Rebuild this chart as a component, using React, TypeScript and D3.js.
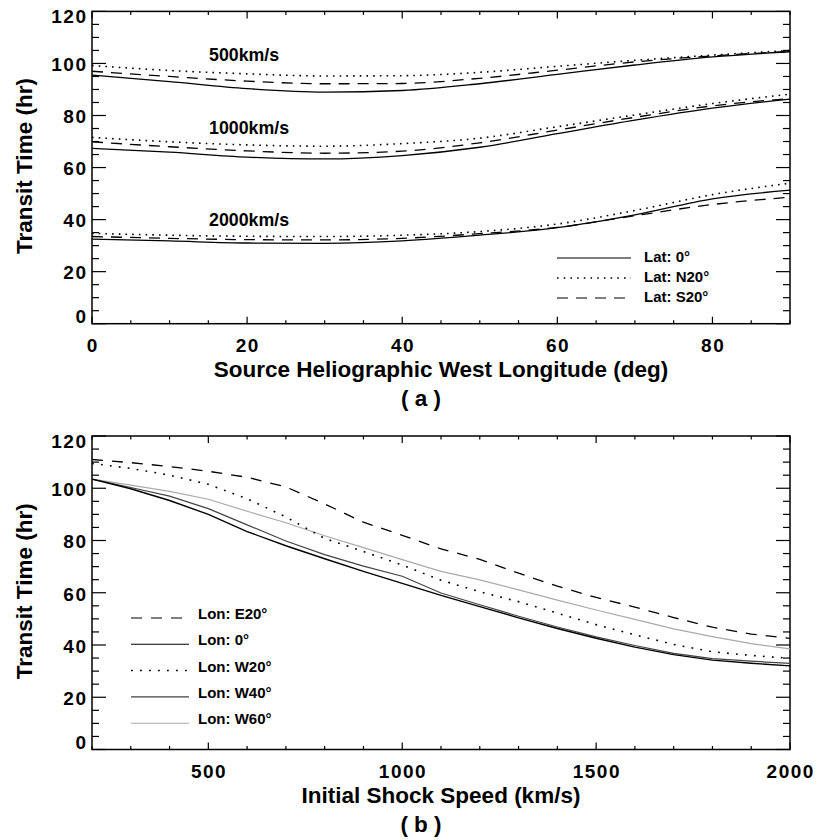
import React from 'react';
import * as d3 from 'd3';

// ---------- Panel (a) data ----------
const lonA = [0, 10, 20, 30, 40, 50, 60, 70, 80, 90];
const a500Lat0 = [95.5, 93.0, 90.3, 89.0, 89.6, 92.2, 95.8, 99.4, 102.5, 104.5];
const a500N20 = [99.2, 97.3, 96.0, 95.2, 95.3, 96.6, 98.9, 101.2, 103.2, 105.0];
const a500S20 = [97.0, 95.0, 93.2, 92.2, 92.3, 94.3, 97.4, 100.6, 102.9, 104.6];
const a1000Lat0 = [67.4, 65.9, 64.0, 63.3, 64.6, 67.8, 73.0, 78.2, 82.8, 86.3];
const a1000N20 = [71.6, 69.9, 68.7, 68.2, 69.2, 71.3, 75.7, 80.2, 84.6, 88.2];
const a1000S20 = [69.9, 68.0, 66.4, 65.5, 66.3, 69.5, 74.4, 79.3, 83.7, 86.5];
const a2000Lat0 = [32.5, 31.8, 31.0, 30.9, 31.8, 34.0, 36.9, 41.8, 48.0, 51.3];
const a2000N20 = [34.7, 34.0, 33.6, 33.5, 34.0, 35.4, 38.3, 43.5, 49.6, 54.0];
const a2000S20 = [33.5, 32.8, 32.3, 32.2, 32.8, 34.6, 37.0, 41.5, 45.8, 48.6];
const groupLabelsA = ['500km/s', '1000km/s', '2000km/s'];
const legendA = ['Lat: 0°', 'Lat: N20°', 'Lat: S20°'];

// ---------- Panel (b) data ----------
const speedB = [200, 300, 400, 500, 600, 700, 800, 900, 1000, 1100, 1200, 1300, 1400, 1500, 1600, 1700, 1800, 1900, 2000];
const bE20 = [111.0, 109.8, 108.3, 106.5, 104.2, 100.5, 94.0, 87.0, 82.0, 76.8, 72.8, 67.5, 62.5, 58.2, 54.5, 50.5, 46.8, 44.2, 42.5];
const bLon0 = [103.5, 99.8, 95.3, 90.0, 83.4, 78.0, 73.0, 68.2, 63.6, 59.0, 54.7, 50.4, 46.3, 42.6, 39.2, 36.3, 34.2, 33.0, 32.0];
const bW20 = [109.5, 107.6, 105.0, 101.5, 96.0, 89.0, 80.8, 75.8, 70.6, 64.8, 60.4, 56.6, 52.2, 47.8, 43.9, 40.2, 37.4, 36.0, 34.9];
const bW40 = [103.5, 100.3, 97.0, 92.2, 86.0, 79.8, 74.6, 70.2, 66.3, 59.9, 55.4, 51.0, 46.9, 43.1, 39.8, 36.8, 34.8, 33.8, 33.0];
const bW60 = [103.5, 101.2, 98.8, 95.8, 91.2, 86.8, 81.8, 77.3, 72.7, 68.2, 64.9, 61.1, 57.2, 53.4, 49.8, 46.2, 43.2, 40.5, 38.5];
const legendB = ['Lon: E20°', 'Lon: 0°', 'Lon: W20°', 'Lon: W40°', 'Lon: W60°'];

// ---------- ticks ----------
const xMajorA = [0, 20, 40, 60, 80];
const xMinorA = [0, 5, 10, 15, 20, 25, 30, 35, 40, 45, 50, 55, 60, 65, 70, 75, 80, 85, 90];
const xMajorB = [500, 1000, 1500, 2000];
const xMinorB = [200, 300, 400, 500, 600, 700, 800, 900, 1000, 1100, 1200, 1300, 1400, 1500, 1600, 1700, 1800, 1900, 2000];
const yMajor = [0, 20, 40, 60, 80, 100, 120];
const yMinor = [0, 5, 10, 15, 20, 25, 30, 35, 40, 45, 50, 55, 60, 65, 70, 75, 80, 85, 90, 95, 100, 105, 110, 115, 120];

const FONT = '"Liberation Sans", Arial, Helvetica, sans-serif';

type Scale = d3.ScaleLinear<number, number>;

function Frame({ x, y, xMajor, xMinor, xTitle, yTitle, panelLabel }: {
  x: Scale; y: Scale; xMajor: number[]; xMinor: number[]; xTitle: string; yTitle: string; panelLabel: string;
}) {
  const [x0, x1] = x.range();
  const [yb, yt] = y.range();
  const sw = 1.5;
  const els: React.ReactNode[] = [];
  xMinor.forEach((v, i) => {
    const px = x(v);
    const len = xMajor.includes(v) ? 7 : 3.5;
    els.push(<line key={'xb' + i} x1={px} x2={px} y1={yb} y2={yb - len} stroke="#000" strokeWidth={1.2} />);
    els.push(<line key={'xt' + i} x1={px} x2={px} y1={yt} y2={yt + len} stroke="#000" strokeWidth={1.2} />);
  });
  yMinor.forEach((v, i) => {
    const py = y(v);
    const len = yMajor.includes(v) ? 14 : 7;
    els.push(<line key={'yl' + i} x1={x0} x2={x0 + len} y1={py} y2={py} stroke="#000" strokeWidth={1.2} />);
    els.push(<line key={'yr' + i} x1={x1} x2={x1 - len} y1={py} y2={py} stroke="#000" strokeWidth={1.2} />);
  });
  const cy = (yb + yt) / 2;
  const cx = (x0 + x1) / 2;
  return (
    <g>
      {els}
      <rect x={x0} y={yt} width={x1 - x0} height={yb - yt} fill="none" stroke="#000" strokeWidth={sw} />
      {xMajor.map((v, i) => (
        <text key={'xl' + i} x={x(v) + 0.75} y={yb + 28} textAnchor="middle" fontFamily={FONT} fontWeight="bold" fontSize={19} letterSpacing={1.5}>{v}</text>
      ))}
      {yMajor.map((v, i) => {
        const c = Math.min(Math.max(y(v) + 1, yt + 5), yb - 7.2);
        return (
          <text key={'yl' + i} x={87.5} y={c + 6.8} textAnchor="end" fontFamily={FONT} fontWeight="bold" fontSize={19} letterSpacing={1.5}>{v}</text>
        );
      })}
      <text x={cx} y={yb + 53.5} textAnchor="middle" fontFamily={FONT} fontWeight="bold" fontSize={22.5}>{xTitle}</text>
      <text x={421} y={yb + 82} textAnchor="middle" fontFamily={FONT} fontWeight="bold" fontSize={22.5}>{panelLabel}</text>
      <text transform={`translate(31.5,${cy - 1.5}) rotate(-90)`} textAnchor="middle" fontFamily={FONT} fontWeight="bold" fontSize={22.5}>{yTitle}</text>
    </g>
  );
}

export default function App() {
  // Panel a scales
  const xA = d3.scaleLinear().domain([0, 90]).range([92, 790]);
  const yA = d3.scaleLinear().domain([0, 120]).range([323.7, 11.4]);
  // Panel b scales
  const xB = d3.scaleLinear().domain([200, 2000]).range([92, 790]);
  const yB = d3.scaleLinear().domain([0, 120]).range([749.5, 436]);

  const lineA = (vals: number[]) =>
    d3.line<number>().x((_, i) => xA(lonA[i])).y((d) => yA(d)).curve(d3.curveMonotoneX)(vals) || '';
  const lineB = (vals: number[]) =>
    d3.line<number>().x((_, i) => xB(speedB[i])).y((d) => yB(d))(vals) || '';

  const styleA = [
    { dash: undefined as string | undefined },
    { dash: '1.6,5.1' },
    { dash: '11,8' },
  ];
  const groupsA = [
    [a500Lat0, a500N20, a500S20],
    [a1000Lat0, a1000N20, a1000S20],
    [a2000Lat0, a2000N20, a2000S20],
  ];
  const labelBaselineA = [60.7, 134, 226];

  const seriesB = [
    { vals: bE20, color: '#000', dash: '11,9', width: 1.3 },
    { vals: bLon0, color: '#000', dash: undefined as string | undefined, width: 1.4 },
    { vals: bW20, color: '#000', dash: '1.8,7.2', width: 1.6 },
    { vals: bW40, color: '#444', dash: undefined, width: 1.2 },
    { vals: bW60, color: '#aaa', dash: undefined, width: 1.2 },
  ];
  const drawOrderB = [4, 3, 2, 1, 0];

  return (
    <svg width={817} height={840} style={{ position: 'absolute', left: 0, top: 0, background: '#fff' }}>
      <rect x={0} y={0} width={817} height={840} fill="#fff" />
      {/* Panel a */}
      <Frame x={xA} y={yA} xMajor={xMajorA} xMinor={xMinorA} xTitle="Source Heliographic West Longitude (deg)" yTitle="Transit Time (hr)" panelLabel="( a )" />
      {groupsA.map((g, gi) => (
        <g key={'ga' + gi}>
          {g.map((vals, si) => (
            <path key={si} d={lineA(vals)} fill="none" stroke="#000" strokeWidth={si === 1 ? 1.6 : 1.3} strokeDasharray={styleA[si].dash} />
          ))}
          <text x={209} y={labelBaselineA[gi]} fontFamily={FONT} fontWeight="bold" fontSize={17.8}>{groupLabelsA[gi]}</text>
        </g>
      ))}
      {legendA.map((t, i) => (
        <g key={'la' + i}>
          <line x1={557} x2={631} y1={258 + i * 20} y2={258 + i * 20} stroke="#000" strokeWidth={i === 1 ? 1.5 : 1.2} strokeDasharray={styleA[i].dash} />
          <text x={644} y={262 + i * 20} fontFamily={FONT} fontWeight="bold" fontSize={15}>{t}</text>
        </g>
      ))}

      {/* Panel b */}
      <Frame x={xB} y={yB} xMajor={xMajorB} xMinor={xMinorB} xTitle="Initial Shock Speed (km/s)" yTitle="Transit Time (hr)" panelLabel="( b )" />
      {drawOrderB.map((k) => (
        <path key={'sb' + k} d={lineB(seriesB[k].vals)} fill="none" stroke={seriesB[k].color} strokeWidth={seriesB[k].width} strokeDasharray={seriesB[k].dash} />
      ))}
      {legendB.map((t, i) => (
        <g key={'lb' + i}>
          <line x1={131} x2={189} y1={618 + i * 26.3} y2={618 + i * 26.3} stroke={seriesB[i].color} strokeWidth={i === 2 ? 1.5 : 1.1} strokeDasharray={seriesB[i].dash} />
          <text x={198} y={619 + i * 26.3} fontFamily={FONT} fontWeight="bold" fontSize={15}>{t}</text>
        </g>
      ))}
    </svg>
  );
}
